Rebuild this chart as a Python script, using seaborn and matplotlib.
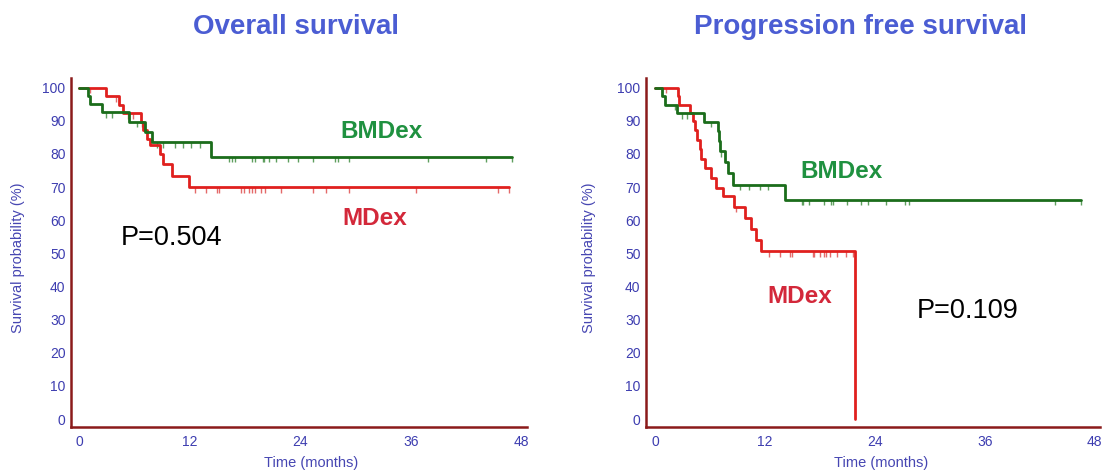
import numpy as np
import pandas as pd
import matplotlib
matplotlib.use("Agg")
import matplotlib.pyplot as plt
import seaborn as sns
from matplotlib.ticker import MultipleLocator

# ---------------- data ----------------
# Overall survival
os_bm_times = [0.95, 1.15, 2.5, 5.45, 7.1, 7.85, 14.3]
os_bm_surv = [97.5, 95.0, 92.5, 89.7, 86.6, 83.5, 79.2]
os_bm_end = 47.0
os_bm_cens = [2.94, 3.55, 6.3, 6.77, 8.39, 9.1, 10.36, 11.25, 12.15, 13.05, 16.2, 16.6,
              16.9, 18.8, 19.1, 19.9, 20.0, 20.6, 21.3, 22.7, 23.7, 25.4, 27.8, 28.1,
              29.3, 37.9, 44.2, 47.0]

os_m_times = [2.95, 4.35, 4.75, 6.65, 6.95, 7.3, 7.65, 8.8, 9.1, 10.05, 11.9]
os_m_surv = [97.4, 94.9, 92.3, 89.7, 87.2, 84.6, 82.6, 80.0, 76.9, 73.4, 70.0]
os_m_end = 46.6
os_m_cens = [1.2, 4.0, 5.3, 5.8, 12.6, 13.8, 15.0, 15.2, 17.5, 17.9, 18.4, 18.8, 19.1,
             19.7, 20.2, 21.9, 25.4, 26.8, 29.3, 36.6, 45.5, 46.6]

# Progression free survival
pfs_bm_times = [0.7, 1.07, 2.35, 5.3, 6.9, 7.0, 7.1, 7.6, 8.0, 8.5, 14.15]
pfs_bm_surv = [97.4, 94.9, 92.3, 89.7, 86.8, 83.8, 80.8, 77.7, 74.2, 70.7, 66.2]
pfs_bm_end = 46.5
pfs_bm_cens = [2.15, 2.9, 3.5, 6.05, 7.2, 9.25, 10.3, 11.5, 12.3, 16.0, 16.15, 16.8,
               18.5, 19.2, 19.45, 21.0, 22.5, 23.3, 25.2, 27.3, 27.7, 43.7, 46.5]

pfs_m_times = [2.5, 2.6, 3.8, 4.15, 4.3, 4.6, 4.9, 5.0, 5.43, 6.05, 6.7, 7.36, 8.6,
               9.8, 10.5, 11.07, 11.6, 21.8]
pfs_m_surv = [97.4, 94.9, 92.3, 89.8, 87.2, 84.3, 81.4, 78.5, 75.7, 72.7, 69.7, 67.2,
              64.1, 60.8, 57.3, 54.1, 50.6, 0.0]
pfs_m_end = None
pfs_m_cens = [1.2, 8.8, 12.4, 13.6, 14.7, 15.0, 17.2, 17.4, 18.0, 18.5, 18.7, 19.1,
              19.9, 20.8, 21.6]

groups = ["MDex", "BMDex"]
x_ticks = [0, 12, 24, 36, 48]
y_ticks = list(range(0, 101, 10))

# ---------------- styling ----------------
LINE_COL = {"BMDex": "#1b6d1b", "MDex": "#e0201e"}
CENS_COL = {"BMDex": "#5f9f5f", "MDex": "#e46a6a"}
LABEL_COL = {"BMDex": "#1f9140", "MDex": "#d3283a"}
AXIS_COL = "#8b1a1a"
TICK_COL = "#3d3db0"
TITLE_COL = "#4b5dd3"

sns.set_theme(style="white")
plt.rcParams["font.family"] = ["Liberation Sans", "DejaVu Sans"]


def step_frame(times, surv, end, name):
    x = [0.0] + list(times)
    y = [100.0] + list(surv)
    if end is not None:
        x.append(end)
        y.append(surv[-1])
    return pd.DataFrame({"time": x, "surv": y, "group": name})


def surv_at(times, surv, t):
    s = 100.0
    for ti, si in zip(times, surv):
        if ti <= t:
            s = si
    return s


fig = plt.figure(figsize=(11.04, 4.73), dpi=100)
axL = fig.add_axes([71 / 1104, 46 / 473, 456 / 1104, 349 / 473])
axR = fig.add_axes([646 / 1104, 46 / 473, 454 / 1104, 349 / 473])

panels = [
    (axL, {"MDex": (os_m_times, os_m_surv, os_m_end, os_m_cens),
           "BMDex": (os_bm_times, os_bm_surv, os_bm_end, os_bm_cens)},
     (-0.9, 48.6)),
    (axR, {"MDex": (pfs_m_times, pfs_m_surv, pfs_m_end, pfs_m_cens),
           "BMDex": (pfs_bm_times, pfs_bm_surv, pfs_bm_end, pfs_bm_cens)},
     (-1.0, 48.6)),
]

for ax, series, xlim in panels:
    df = pd.concat([step_frame(series[g][0], series[g][1], series[g][2], g) for g in groups],
                   ignore_index=True)
    # censor marks (hanging below the curve)
    for g in groups:
        t, s, _, c = series[g]
        ys = np.array([surv_at(t, s, ci) for ci in c])
        ax.vlines(c, ys - 1.7, ys, color=CENS_COL[g], lw=1.0, zorder=2)
    sns.lineplot(data=df, x="time", y="surv", hue="group", hue_order=groups,
                 palette=LINE_COL, estimator=None, sort=False, drawstyle="steps-post",
                 lw=2.0, legend=False, ax=ax, zorder=3)

    ax.set_xlim(*xlim)
    ax.set_ylim(-2.4, 102.9)
    ax.set_xticks(x_ticks)
    ax.xaxis.set_minor_locator(MultipleLocator(3))
    ax.set_yticks(y_ticks)
    ax.tick_params(axis="both", which="major", direction="in", length=7, width=1.6,
                   color=AXIS_COL, labelcolor=TICK_COL, labelsize=10)
    ax.tick_params(axis="x", which="minor", direction="in", length=3.5, width=1.2,
                   color=AXIS_COL)
    ax.tick_params(axis="x", which="major", pad=6)
    ax.tick_params(axis="y", which="major", pad=4)
    for side in ["top", "right"]:
        ax.spines[side].set_visible(False)
    for side in ["left", "bottom"]:
        ax.spines[side].set_color(AXIS_COL)
        ax.spines[side].set_linewidth(1.8)
    ax.grid(False)
    ax.set_xlabel("Time (months)", fontsize=10.5, color="#4646b2")
    ax.set_ylabel("Survival probability (%)", fontsize=10.5, color="#4646b2")

axL.xaxis.set_label_coords(0.526, -0.082)
axR.xaxis.set_label_coords(0.518, -0.082)
axL.yaxis.set_label_coords(-0.100, 0.486)
axR.yaxis.set_label_coords(-0.110, 0.486)

# group labels and p-values
lab_kw = dict(ha="center", va="center", fontsize=17.5, fontweight="bold")
axL.text(32.8, 86.9, "BMDex", color=LABEL_COL["BMDex"], **lab_kw)
axL.text(32.1, 60.5, "MDex", color=LABEL_COL["MDex"], **lab_kw)
axL.text(9.96, 54.5, "P=0.504", ha="center", va="center", fontsize=19.5, color="black")
axR.text(20.4, 74.6, "BMDex", color=LABEL_COL["BMDex"], **lab_kw)
axR.text(15.8, 36.9, "MDex", color=LABEL_COL["MDex"], **lab_kw)
axR.text(34.1, 32.6, "P=0.109", ha="center", va="center", fontsize=19.5, color="black")

fig.text(296 / 1104, 1 - 27 / 473, "Overall survival", ha="center", va="center",
         fontsize=20, fontweight="bold", color=TITLE_COL)
fig.text(860 / 1104, 1 - 27 / 473, "Progression free survival", ha="center", va="center",
         fontsize=20, fontweight="bold", color=TITLE_COL)

fig.savefig("out.png", dpi=100, facecolor="white")
